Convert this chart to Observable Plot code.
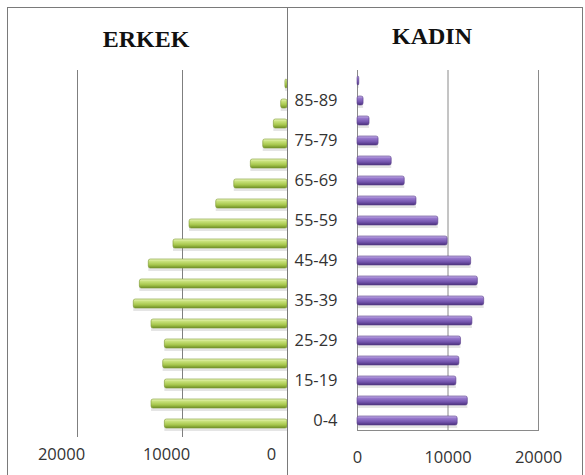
<!DOCTYPE html>
<html><head><meta charset="utf-8">
<script src="https://cdn.jsdelivr.net/npm/d3@7"></script>
<script src="https://cdn.jsdelivr.net/npm/@observablehq/plot@0.6"></script>
<style>
html,body{margin:0;padding:0;background:#fff;}
#wrap{position:relative;width:585px;height:475px;overflow:hidden;background:#fff;}
.title{position:absolute;font-family:"Liberation Serif","Times New Roman",serif;font-weight:bold;font-size:24px;line-height:24px;color:#111;text-align:center;white-space:nowrap;z-index:2;}
.ln{position:absolute;background:#7a7a7a;pointer-events:none;z-index:3;}
.panel{position:absolute;top:0;z-index:1;}
</style></head><body>
<div id="wrap">
  <div class="panel" id="leftPanel" style="left:0;width:288px;height:475px;"></div>
  <div class="panel" id="rightPanel" style="left:288px;width:297px;height:475px;"></div>
  <div class="title" style="left:46px;width:200px;top:27px;">ERKEK</div>
  <div class="title" style="left:332px;width:200px;top:24px;">KADIN</div>
  <div class="ln" style="left:7px;top:7px;width:576px;height:1px;"></div>
  <div class="ln" style="left:7px;top:7px;width:1px;height:468px;"></div>
  <div class="ln" style="left:582px;top:7px;width:1px;height:468px;"></div>
  <div class="ln" style="left:287px;top:7px;width:1px;height:468px;"></div>
</div>
<script>
const ages = ["0-4","5-14","15-19","20-24","25-29","30-34","35-39","40-44","45-49","50-54","55-59","60-64","65-69","70-74","75-79","80-84","85-89","90+"];
const erkek = [11680,12950,11680,11840,11680,12950,14640,14060,13210,10860,9330,6790,5070,3490,2310,1300,600,200];
const kadin = [11070,12190,10930,11260,11440,12700,14000,13300,12560,9960,8930,6520,5220,3780,2330,1330,670,200];
const shownAges = ["0-4","15-19","25-29","35-39","45-49","55-59","65-69","75-79","85-89"];
const xTicks = [0, 10000, 20000];

const rows = ages.map((a, i) => ({age: a, m: erkek[i], f: kadin[i]}));
const yDomain = ages.slice().reverse();
const baseStyle = {fontFamily: '"Open Sans", sans-serif', fontSize: "16.5px", color: "#333", background: "transparent"};

function addGradient(svg, id, stops) {
  const defs = d3.select(svg).insert("defs", ":first-child");
  const g = defs.append("linearGradient").attr("id", id)
    .attr("x1", 0).attr("y1", 0).attr("x2", 0).attr("y2", 1);
  stops.forEach(([o, c]) => g.append("stop").attr("offset", o).attr("stop-color", c));
}

const left = Plot.plot({
  width: 288, height: 475,
  marginLeft: 77, marginRight: 1, marginTop: 70, marginBottom: 38,
  style: baseStyle,
  x: {domain: [0, 20000], reverse: true, label: null},
  y: {domain: yDomain, paddingInner: 0.56, paddingOuter: 0.28, axis: null, label: null},
  marks: [
    Plot.ruleX([10000, 20000], {stroke: "#7f7f7f"}),
    Plot.barX(rows, {y: "age", x: "m", dy: 3, fill: "#888", fillOpacity: 0.22}),
    Plot.barX(rows, {y: "age", x: "m", fill: "url(#gGreen)", stroke: "#7d9a30", strokeWidth: 0.6, rx: 2}),
    Plot.axisX({ticks: xTicks, tickSize: 0, tickPadding: 11, tickFormat: d3.format("d"), dx: -16, label: null})
  ]
});
addGradient(left, "gGreen", [["0%", "#eef7c4"], ["25%", "#c9e27c"], ["65%", "#a6c64c"], ["100%", "#6e8e26"]]);
document.getElementById("leftPanel").appendChild(left);

const right = Plot.plot({
  width: 297, height: 475,
  marginLeft: 69, marginRight: 47, marginTop: 70, marginBottom: 45,
  style: baseStyle,
  x: {domain: [0, 20000], label: null},
  y: {domain: yDomain, paddingInner: 0.56, paddingOuter: 0.28, label: null},
  marks: [
    Plot.ruleX(xTicks, {stroke: "#8a8a8a"}),
    Plot.frame({anchor: "bottom", stroke: "#8a8a8a"}),
    Plot.barX(rows, {y: "age", x: "f", dy: 3, fill: "#888", fillOpacity: 0.22}),
    Plot.barX(rows, {y: "age", x: "f", fill: "url(#gPurple)", stroke: "#5a3f8c", strokeWidth: 0.6, rx: 2}),
    Plot.axisX({ticks: xTicks, tickSize: 0, tickPadding: 21, tickFormat: d3.format("d"), label: null}),
    Plot.axisY({ticks: shownAges, tickSize: 0, tickPadding: 20, label: null})
  ]
});
addGradient(right, "gPurple", [["0%", "#c9b6ea"], ["25%", "#9677cc"], ["65%", "#7455ae"], ["100%", "#4a2f7c"]]);
document.getElementById("rightPanel").appendChild(right);
</script>
</body></html>
